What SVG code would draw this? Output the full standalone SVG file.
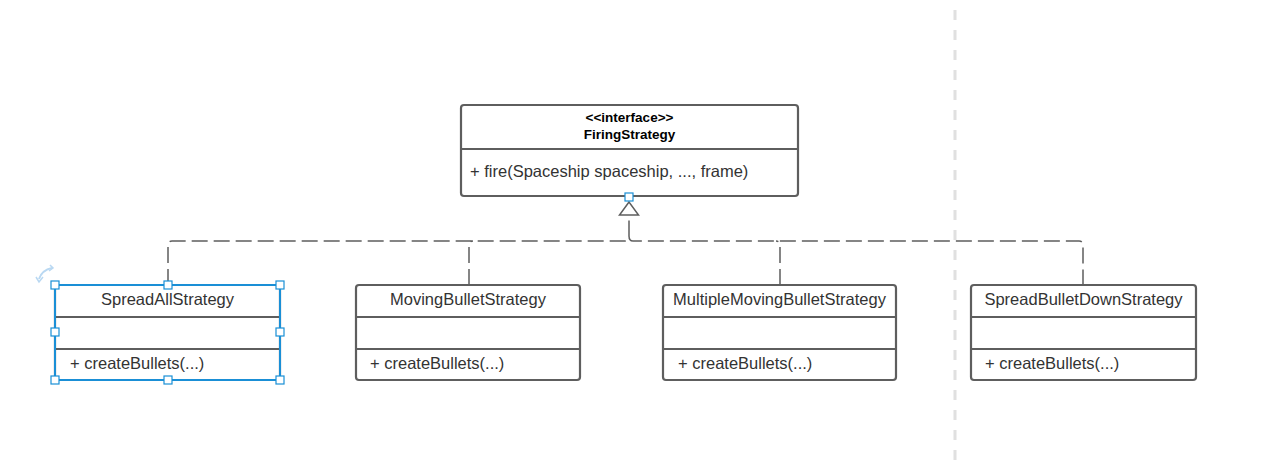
<svg xmlns="http://www.w3.org/2000/svg" width="1263" height="467" viewBox="0 0 1263 467">
<style>
.box{fill:#fff;stroke:#5e5e5e;stroke-width:2.2}
.div{stroke:#5e5e5e;stroke-width:2.2}
.t{font-family:"Liberation Sans",Arial,sans-serif;font-size:16.5px;fill:#333}
.b{font-family:"Liberation Sans",Arial,sans-serif;font-size:13.5px;font-weight:bold;fill:#000}
.dash{fill:none;stroke:#5e5e5e;stroke-width:1.5;stroke-dasharray:16,6}
.h{fill:#fff;stroke:#1a8fd6;stroke-width:1.2}
</style>
<rect width="1263" height="467" fill="#fff"/>
<line x1="955" y1="10" x2="955" y2="462" stroke="#e0e0e0" stroke-width="3" stroke-dasharray="10,10"/>
<g id="connectors">
<path class="dash" d="M168,285 V245 Q168,241 172,241 H625 Q629,241 629,236 V215 M629,236 Q629,241 633,241 H1079 Q1083,241 1083,245 V285"/>
<path class="dash" d="M469,285 V245 Q469,241 473,241"/>
<path class="dash" d="M780,285 V245 Q780,241 776,241"/>
<polygon points="629,202 619.5,215 638.5,215" fill="#fff" stroke="#5e5e5e" stroke-width="1.5"/>
</g>
<g id="FiringStrategy">
<rect class="box" x="461" y="105" width="337" height="91" rx="3"/>
<line class="div" x1="461" y1="149" x2="798" y2="149"/>
<text class="b" x="629.5" y="121.5" text-anchor="middle">&lt;&lt;interface&gt;&gt;</text>
<text class="b" x="629.5" y="138.5" text-anchor="middle">FiringStrategy</text>
<text class="t" x="470" y="177">+ fire(Spaceship spaceship, ..., frame)</text>
</g>
<g id="SpreadAllStrategy">
<rect class="box" x="55" y="285" width="225" height="95" rx="3"/>
<line class="div" x1="55" y1="317" x2="280" y2="317"/>
<line class="div" x1="55" y1="349" x2="280" y2="349"/>
<text class="t" x="167.5" y="305" text-anchor="middle">SpreadAllStrategy</text>
<text class="t" x="70" y="369">+ createBullets(...)</text>
</g>
<g id="MovingBulletStrategy">
<rect class="box" x="356" y="285" width="224" height="95" rx="3"/>
<line class="div" x1="356" y1="317" x2="580" y2="317"/>
<line class="div" x1="356" y1="349" x2="580" y2="349"/>
<text class="t" x="468" y="305" text-anchor="middle">MovingBulletStrategy</text>
<text class="t" x="370" y="369">+ createBullets(...)</text>
</g>
<g id="MultipleMovingBulletStrategy">
<rect class="box" x="663" y="285" width="233" height="95" rx="3"/>
<line class="div" x1="663" y1="317" x2="896" y2="317"/>
<line class="div" x1="663" y1="349" x2="896" y2="349"/>
<text class="t" x="779.5" y="305" text-anchor="middle">MultipleMovingBulletStrategy</text>
<text class="t" x="678" y="369">+ createBullets(...)</text>
</g>
<g id="SpreadBulletDownStrategy">
<rect class="box" x="971" y="285" width="225" height="95" rx="3"/>
<line class="div" x1="971" y1="317" x2="1196" y2="317"/>
<line class="div" x1="971" y1="349" x2="1196" y2="349"/>
<text class="t" x="1083.5" y="305" text-anchor="middle">SpreadBulletDownStrategy</text>
<text class="t" x="985" y="369">+ createBullets(...)</text>
</g>
<g id="selection">
<rect x="55" y="285" width="225" height="95" fill="none" stroke="#1a8fd6" stroke-width="2"/>
<rect class="h" x="51" y="281" width="8" height="8"/>
<rect class="h" x="164" y="281" width="8" height="8"/>
<rect class="h" x="276" y="281" width="8" height="8"/>
<rect class="h" x="51" y="328" width="8" height="8"/>
<rect class="h" x="276" y="328" width="8" height="8"/>
<rect class="h" x="51" y="376" width="8" height="8"/>
<rect class="h" x="164" y="376" width="8" height="8"/>
<rect class="h" x="276" y="376" width="8" height="8"/>
<rect class="h" x="625" y="193" width="8" height="8"/>
<path d="M39,279 Q42,270 52,268" fill="none" stroke="#b9d8f2" stroke-width="2"/>
<path d="M36,277 L39,282 L43,277" fill="none" stroke="#b9d8f2" stroke-width="1.5"/>
<path d="M50,265 L53,268 L49,271" fill="none" stroke="#b9d8f2" stroke-width="1.5"/>
</g>
</svg>
